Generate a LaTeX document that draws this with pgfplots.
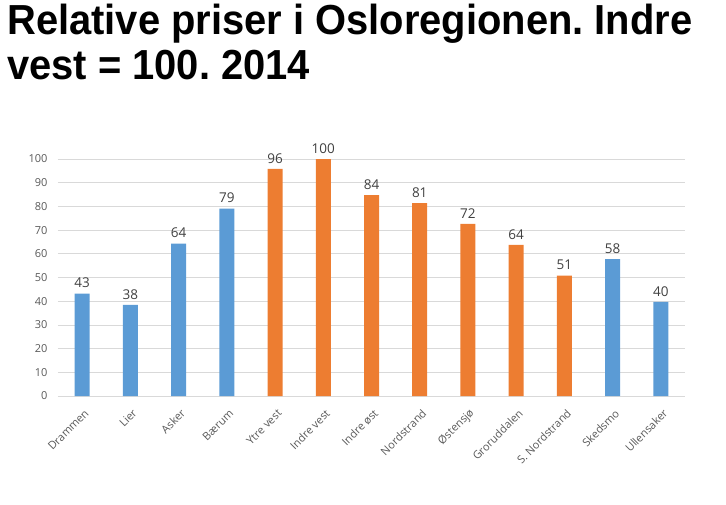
\documentclass[border=0pt]{standalone}
\usepackage{pgfplots}
\pgfplotsset{compat=1.18}
\usepackage{fontspec}
\setmainfont{Open Sans}
\newfontfamily\titlefont[FakeStretch=0.95]{Liberation Sans}
\definecolor{barblue}{HTML}{5B9BD5}
\definecolor{barorange}{HTML}{ED7D31}
\definecolor{gridgray}{HTML}{D9D9D9}
\definecolor{txtgray}{HTML}{595959}
\definecolor{lblgray}{HTML}{404040}
\frenchspacing
\begin{document}
\begin{tikzpicture}
\useasboundingbox (0pt,0pt) rectangle (726pt,-505pt);
\node[anchor=north west, align=left, font=\titlefont\bfseries\fontsize{42}{45}\selectfont, inner sep=0pt] at (7pt,-4pt) {Relative priser i Osloregionen. Indre\\vest = 100. 2014};
\begin{axis}[
  at={(58pt,-396pt)}, anchor=south west, scale only axis,
  width=627pt, height=237pt,
  xmin=-0.5, xmax=12.5, ymin=0, ymax=100,
  ytick={0,10,...,100},
  xtick={0,...,12},
  xticklabels={Drammen,Lier,Asker,Bærum,Ytre vest,Indre vest,Indre øst,Nordstrand,Østensjø,Groruddalen,S. Nordstrand,Skedsmo,Ullensaker},
  axis line style={draw=none},
  major tick length=0pt,
  ymajorgrids, grid style={gridgray, line width=0.8pt},
  /pgf/number format/assume math mode=true,
  yticklabel style={font=\fontsize{11}{11}\selectfont, text=txtgray, xshift=-7pt},
  xticklabel style={font=\fontsize{11}{11}\selectfont, text=txtgray, xshift=7pt, yshift=-13pt, rotate=45, anchor=east},
  ybar, bar width=15pt, bar shift=0pt,
  point meta=explicit symbolic,
  nodes near coords,
  nodes near coords style={font=\fontsize{13.5}{13.5}\selectfont, text=lblgray, yshift=2pt},
  clip=false,
]
\addplot[fill=barblue, draw=none] table[meta=label] {
x y label
0 43.2 43
1 38.4 38
2 64.3 64
3 79.1 79
11 57.8 58
12 39.7 40
};
\addplot[fill=barorange, draw=none] table[meta=label] {
x y label
4 95.8 96
5 100 100
6 84.8 84
7 81.4 81
8 72.6 72
9 63.8 64
10 50.8 51
};
\end{axis}
\end{tikzpicture}
\end{document}
